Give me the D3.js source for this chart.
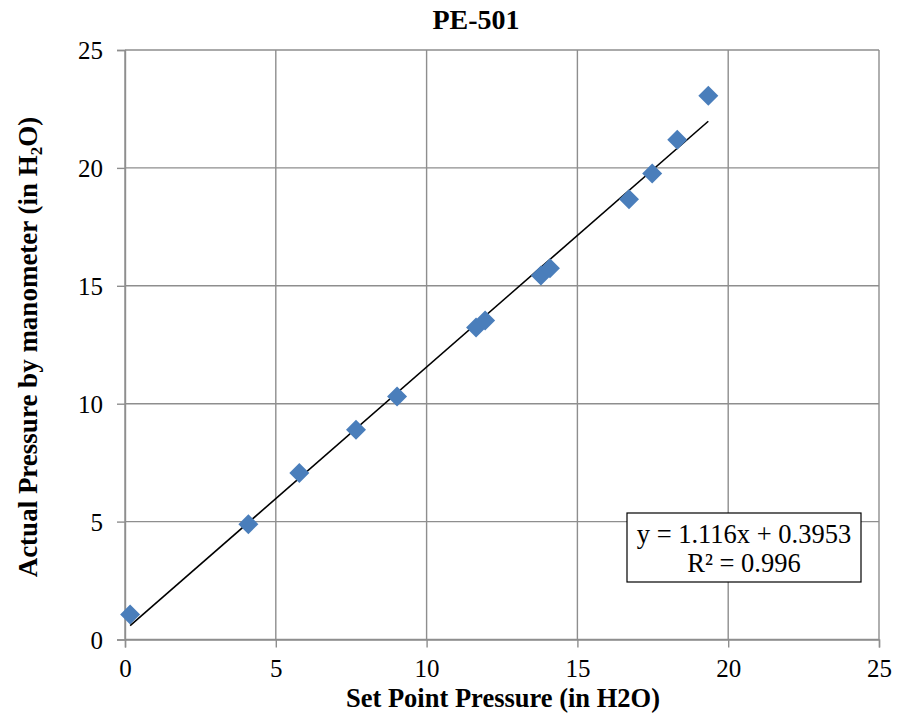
<!DOCTYPE html>
<html>
<head>
<meta charset="utf-8">
<script src="https://cdn.jsdelivr.net/npm/d3@7"></script>
<style>
  html, body { margin: 0; padding: 0; background: #fff; }
  svg { display: block; font-family: "Liberation Serif", "Times New Roman", serif; }
</style>
</head>
<body>
<svg id="chart" width="898" height="719"></svg>
<script>
// Set point vs. manometer readings for PE-501
const setPoint = [0.17, 4.09, 5.78, 7.66, 9.02, 11.64, 11.94, 13.79, 14.09, 16.71, 17.48, 18.31, 19.34];
const actual   = [1.06, 4.89, 7.06, 8.90, 10.31, 13.23, 13.53, 15.44, 15.74, 18.67, 19.76, 21.19, 23.06];
const xTicks = [0, 5, 10, 15, 20, 25];
const yTicks = [0, 5, 10, 15, 20, 25];
// Linear trendline reported on the chart
const slope = 1.116;
const intercept = 0.3953;
const rSquared = 0.996;

const svg = d3.select("#chart");
const plotLeft = 125, plotRight = 879, plotTop = 50, plotBottom = 639.5;

const x = d3.scaleLinear().domain([0, 25]).range([plotLeft, plotRight]);
const y = d3.scaleLinear().domain([0, 25]).range([plotBottom, plotTop]);

const gridColor = "#8e8e8e";
const serif = "'Liberation Serif', 'Times New Roman', serif";

// Gridlines
svg.append("g").selectAll("line").data(xTicks).join("line")
  .attr("x1", d => x(d)).attr("x2", d => x(d))
  .attr("y1", plotTop).attr("y2", plotBottom)
  .attr("stroke", gridColor).attr("stroke-width", 1.4);
svg.append("g").selectAll("line").data(yTicks).join("line")
  .attr("y1", d => y(d)).attr("y2", d => y(d))
  .attr("x1", plotLeft).attr("x2", plotRight)
  .attr("stroke", gridColor).attr("stroke-width", 1.4);

// Axes
const xAxis = d3.axisBottom(x).tickValues(xTicks).tickSize(8).tickPadding(10).tickFormat(d3.format("d"));
const yAxis = d3.axisLeft(y).tickValues(yTicks).tickSize(8).tickPadding(14).tickFormat(d3.format("d"));

const gx = svg.append("g").attr("transform", `translate(0,${plotBottom})`).call(xAxis);
const gy = svg.append("g").attr("transform", `translate(${plotLeft},0)`).call(yAxis);
[gx, gy].forEach(g => {
  g.attr("font-family", null).attr("font-size", null);
  g.select(".domain").attr("stroke", gridColor).attr("stroke-width", 1.4);
  g.selectAll(".tick line").attr("stroke", gridColor).attr("stroke-width", 1.4);
  g.selectAll(".tick text")
    .attr("fill", "#000")
    .style("font-family", serif)
    .style("font-size", "25px");
});
gy.selectAll(".tick text").attr("dy", "0.35em");
gx.selectAll(".tick text").attr("dy", "0.78em");

// Trendline across the data range
const xMin = d3.min(setPoint), xMax = d3.max(setPoint);
svg.append("line")
  .attr("x1", x(xMin)).attr("y1", y(slope * xMin + intercept))
  .attr("x2", x(xMax)).attr("y2", y(slope * xMax + intercept))
  .attr("stroke", "#000").attr("stroke-width", 1.6);

// Diamond markers
const diamond = d3.symbol().type(d3.symbolSquare).size(200);
svg.append("g").selectAll("path").data(setPoint.map((v, i) => [v, actual[i]])).join("path")
  .attr("d", diamond)
  .attr("transform", d => `translate(${x(d[0])},${y(d[1])}) rotate(45)`)
  .attr("fill", "#4a7ebb");

// Equation box
const boxG = svg.append("g").style("font-family", serif);
boxG.append("rect")
  .attr("x", 627).attr("y", 513).attr("width", 234).attr("height", 69)
  .attr("fill", "#fff").attr("stroke", "#000").attr("stroke-width", 1.2);
boxG.append("text")
  .attr("x", 744).attr("y", 543).attr("text-anchor", "middle")
  .style("font-size", "26.5px")
  .text(`y = ${slope}x + ${intercept}`);
boxG.append("text")
  .attr("x", 744).attr("y", 572).attr("text-anchor", "middle")
  .style("font-size", "26.5px")
  .text(`R² = ${rSquared}`);

// Title
svg.append("text")
  .attr("x", 476).attr("y", 29).attr("text-anchor", "middle")
  .style("font-size", "28px").style("font-weight", "bold")
  .text("PE-501");

// X axis title
svg.append("text")
  .attr("x", 503).attr("y", 706.5).attr("text-anchor", "middle")
  .style("font-size", "26.5px").style("font-weight", "bold")
  .text("Set Point Pressure (in H2O)");

// Y axis title with subscript
const yt = svg.append("text")
  .attr("transform", "translate(37,347) rotate(-90)")
  .attr("text-anchor", "middle")
  .style("font-size", "27px").style("font-weight", "bold");
yt.append("tspan").text("Actual Pressure by manometer (in H");
yt.append("tspan").attr("dy", 5).style("font-size", "17px").text("2");
yt.append("tspan").attr("dy", -5).text("O)");
</script>
</body>
</html>
